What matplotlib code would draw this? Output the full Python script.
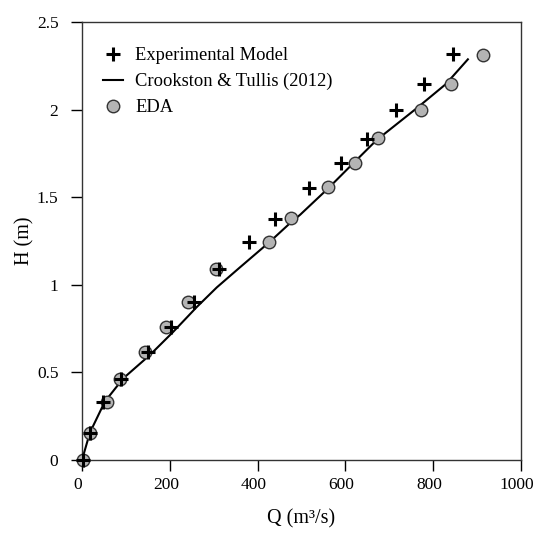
import matplotlib
matplotlib.use("Agg")
import matplotlib.pyplot as plt
import matplotlib.transforms as mtransforms

plt.rcParams['font.family'] = ['Liberation Serif', 'DejaVu Serif']

# experimental model (+)
Q_exp = [1.6, 18.2, 47.2, 88.8, 151, 202.7, 255, 312.8, 380.4, 439.6, 517.8, 589, 648.5, 715, 779, 845.8]
H_exp = [0, 0.156, 0.331, 0.462, 0.618, 0.761, 0.904, 1.09, 1.246, 1.376, 1.553, 1.697, 1.834, 1.998, 2.146, 2.317]

# EDA (circles)
Q_eda = [1.6, 18.2, 56.3, 86.6, 143.5, 190.7, 240.8, 304.6, 426.7, 476, 561, 621, 673.6, 772, 840.5, 914]
H_eda = [0, 0.156, 0.331, 0.462, 0.618, 0.761, 0.904, 1.09, 1.246, 1.38, 1.556, 1.697, 1.836, 1.998, 2.148, 2.313]

# Crookston & Tullis (2012) curve
Q_ct = [0, 18, 52, 94, 155, 208, 261, 307, 360, 428, 474, 497, 561, 618, 671, 762, 829, 879]
H_ct = [0, 0.156, 0.333, 0.466, 0.60, 0.732, 0.872, 0.985, 1.10, 1.246, 1.352, 1.40, 1.551, 1.694, 1.826, 2.007, 2.146, 2.287]

fig = plt.figure(figsize=(5.37, 5.33), dpi=100)
ax = fig.add_axes([0.1527, 0.137, 0.8175, 0.8217])

ln, = ax.plot(Q_ct, H_ct, color='black', lw=1.5, zorder=2)
sc, = ax.plot(Q_eda, H_eda, 'o', ms=9, mfc='#b4b4b4', mec='#333333', mew=1.0,
              zorder=3, clip_on=False)
pl, = ax.plot(Q_exp, H_exp, '+', ms=10, mew=2.2, color='black', zorder=4, clip_on=False)

ax.set_xlim(0, 1000)
ax.set_ylim(0, 2.5)
ax.set_xticks([0, 200, 400, 600, 800, 1000])
ax.set_yticks([0, 0.5, 1, 1.5, 2, 2.5])
ax.set_yticklabels(['0', '0.5', '1', '1.5', '2', '2.5'])
ax.tick_params(direction='out', length=8, width=1, labelsize=12.5)
ax.tick_params(axis='x', pad=4)
ax.tick_params(axis='y', pad=9)
for s in ax.spines.values():
    s.set_color('#333333')
    s.set_linewidth(1.0)

# x tick labels sit a little left of their ticks in the original
shift = mtransforms.ScaledTranslation(-4 / 100, 0, fig.dpi_scale_trans)
for lab in ax.get_xticklabels():
    lab.set_transform(lab.get_transform() + shift)

ax.set_xlabel('Q (m³/s)', fontsize=14.5, labelpad=12)
ax.set_ylabel('H (m)', fontsize=14.5, labelpad=2)

ax.legend([pl, ln, sc], ['Experimental Model', 'Crookston & Tullis (2012)', 'EDA'],
          loc='upper left', bbox_to_anchor=(21 / 439, 1 - 25 / 438),
          frameon=False, fontsize=13.3, handlelength=1.08,
          handletextpad=0.65, labelspacing=0.48, borderaxespad=0, borderpad=0)

fig.savefig('out.png', dpi=100)
